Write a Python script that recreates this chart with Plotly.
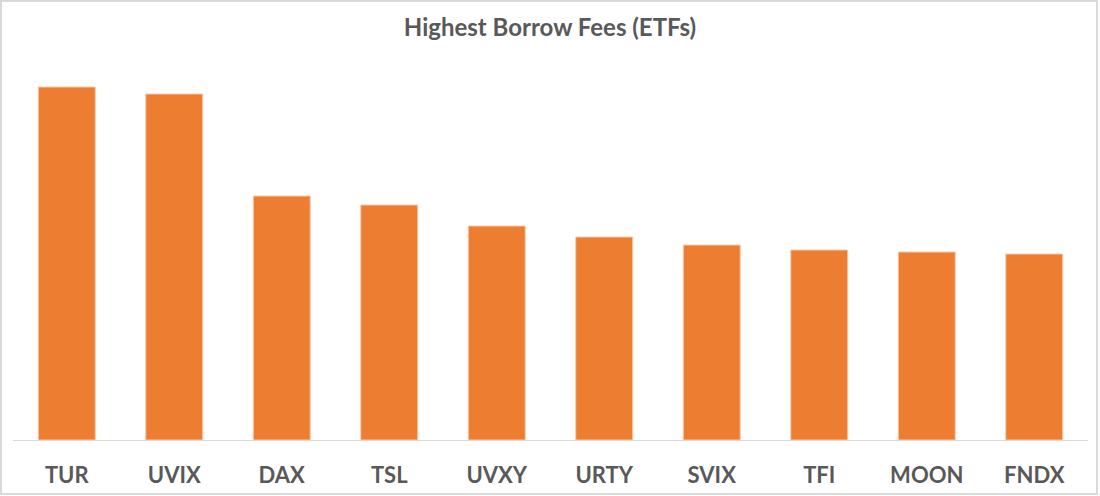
"""Bar chart of the highest borrow fees among ETFs"""

import plotly.graph_objects as go

tickers = ["TUR", "UVIX", "DAX", "TSL", "UVXY", "URTY", "SVIX", "TFI", "MOON", "FNDX"]
borrow_fees = [35.3, 34.6, 24.4, 23.5, 21.4, 20.3, 19.5, 19.0, 18.8, 18.6]

fig = go.Figure(
    go.Bar(
        x=tickers,
        y=borrow_fees,
        marker=dict(color="#ED7D31", line=dict(color="#F8CBAD", width=1)),
        hoverinfo="x+y",
    )
)

# layout tuned to the reference picture
fig.update_layout(
    width=1100,
    height=496,
    paper_bgcolor="white",
    plot_bgcolor="white",
    margin=dict(l=13, r=12, t=60, b=56, autoexpand=False),
    bargap=0.47,
    showlegend=False,
    title=dict(
        text="<b>Highest Borrow Fees (ETFs)</b>",
        x=0.5,
        xanchor="center",
        y=1 - 28 / 496,
        yanchor="middle",
        font=dict(family="Lato", size=24, color="#595959"),
    ),
    font=dict(family="Lato", color="#595959"),
)

# x-axis: category labels under a light baseline
fig.update_xaxes(
    automargin=False,
    showline=True,
    linecolor="#D9D9D9",
    linewidth=1,
    showgrid=False,
    ticks="",
    ticklabelstandoff=16,
    tickfont=dict(family="Lato", size=22, color="#595959", weight="bold"),
)

# y-axis hidden
fig.update_yaxes(visible=False, automargin=False, range=[0, 38])

# light grey frame round the whole chart
fig.add_shape(
    type="rect",
    xref="paper",
    yref="paper",
    x0=-12 / 1075,
    x1=1084 / 1075,
    y0=-54 / 380,
    y1=439 / 380,
    line=dict(color="#D9D9D9", width=2),
    fillcolor="rgba(0,0,0,0)",
    layer="below",
)

# drop the browser's default body margin so the chart sits at 0,0
fig.write_html(
    "out.html",
    post_script="document.body.style.margin='0';",
    config={"displayModeBar": False},
)
